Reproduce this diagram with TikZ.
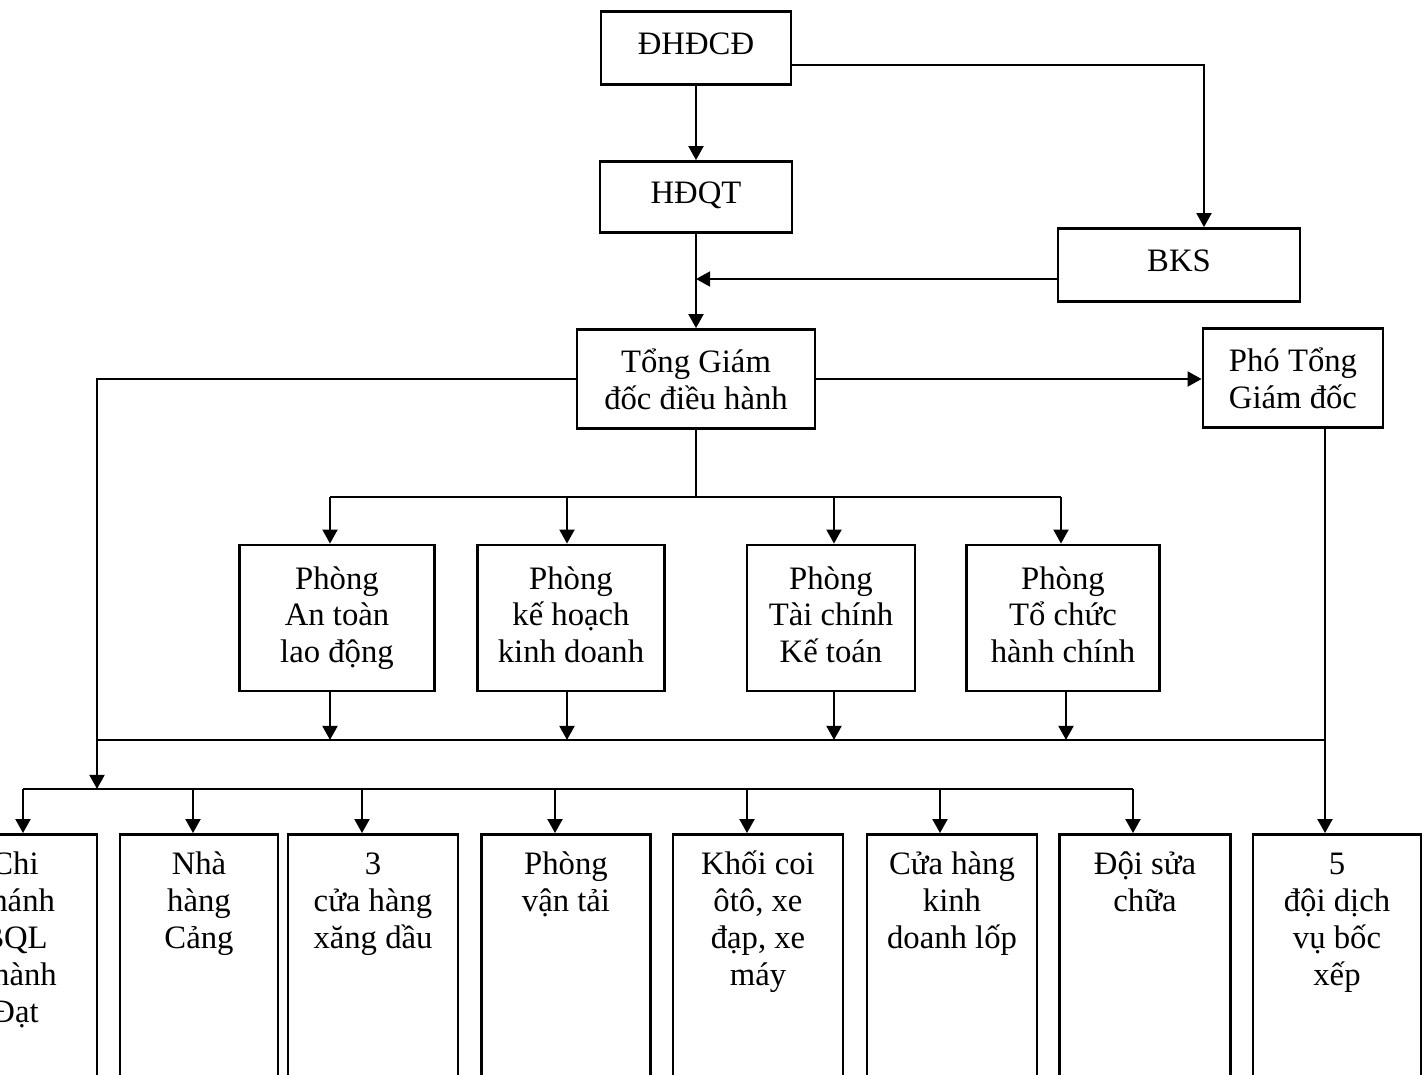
\documentclass[tikz,border=0pt]{standalone}
\usepackage{fontspec}
\setmainfont{Liberation Serif}
\usetikzlibrary{arrows.meta,calc}

\tikzset{
  box/.style={draw, line width=0.75pt, align=center, inner sep=0pt},
  onebox/.style={box, text height=7pt, text depth=3.5pt},
  arr/.style={line width=0.75pt, -{Triangle[length=4pt,width=4.2pt]}},
  ln/.style={line width=0.75pt}
}

\begin{document}
\begin{tikzpicture}[x=0.01cm, y=-0.01cm, font=\fontsize{9.3}{10.5}\selectfont]
        \useasboundingbox (0,0) rectangle (1423,1075);
        \clip (0,0) rectangle (1423,1075);
          \node[onebox, minimum width=1.90cm, minimum height=0.73cm] (dhcd) at (696,48) {ĐHĐCĐ};
          \node[onebox, minimum width=1.92cm, minimum height=0.71cm] (hdqt) at (696,197) {HĐQT};
          \node[onebox, minimum width=2.42cm, minimum height=0.73cm] (bks) at (1179,265) {BKS};
          \node[box, minimum width=2.38cm, minimum height=0.99cm] (tgd) at (696,379) {Tổng Giám\\đốc điều hành};
          \node[box, minimum width=1.80cm, minimum height=0.99cm] (ptgd) at (1293,378) {Phó Tổng\\Giám đốc};
          \draw[arr] (dhcd) -- (hdqt);
          \draw[arr] ([yshift=-0.17cm]dhcd.east) -| ([xshift=0.25cm]bks.north);
          \draw[arr] (hdqt) -- (tgd);
          \coordinate (bksin) at ([yshift=-0.14cm]bks.west);
          \draw[arr] (bksin) -- (bksin -| hdqt.south);
          \draw[arr] (tgd.east) -- (tgd.east -| ptgd.west);
          \coordinate (busL) at (97,789);
          \draw[arr] (tgd.west) -| (busL);
          \coordinate (bus1) at (696,497);
          \draw[ln] (tgd.south) -- (bus1);
          \foreach \n/\x/\w/\ax/\bx/\t in {pa/337/1.95/330/330/{Phòng\\An toàn\\lao động},
                pk/571/1.87/567/567/{Phòng\\kế hoạch\\kinh doanh},
                pt/831/1.68/834/834/{Phòng\\Tài chính\\Kế toán},
                pc/1063/1.93/1061/1066/{Phòng\\Tổ chức\\hành chính}}{
            \node[box, minimum width=\w cm, minimum height=1.46cm] (\n) at (\x,618) {};
            \node[anchor=north, align=center, inner sep=0pt] (\n-txt) at ([yshift=-0.13cm]\n.north) {\rule{0pt}{9pt}\t};
            \coordinate (\n-in) at (\ax,497);
            \coordinate (\n-out) at (\bx,740);
            \draw[arr] (\n-in) -- (\n-in |- \n.north);
            \draw[arr] (\n-out |- \n.south) -- (\n-out);}
          \draw[ln] (pa-in) -- (pc-in);
          \coordinate (bus2L) at (97,740);
          \coordinate (bus2R) at (1325,740);
          \draw[ln] (bus2L) -- (bus2R);
          \foreach \n/\x/\w/\ax/\t in {b1/15/1.64/23/{Chi\\nhánh\\BQL\\Thành\\Đạt},
                b2/199/1.58/193/{Nhà\\hàng\\Cảng},
                b3/373/1.70/362/{3\\cửa hàng\\xăng dầu},
                b4/566/1.69/555/{Phòng\\vận tải},
                b5/758/1.70/747/{Khối coi\\ôtô, xe\\đạp, xe\\máy},
                b6/952/1.70/940/{Cửa hàng\\kinh\\doanh lốp},
                b7/1145/1.71/1133/{Đội sửa\\chữa},
                b8/1337/1.68/1325/{5\\đội dịch\\vụ bốc\\xếp}}{
            \node[box, minimum width=\w cm, minimum height=2.65cm] (\n) at (\x,967) {};
            \node[anchor=north, align=center, inner sep=0pt] (\n-txt) at ([yshift=-0.09cm]\n.north) {\rule{0pt}{9pt}\t};
            \coordinate (\n-in) at (\ax,789);
            \draw[arr] (\n-in) -- (\n-in |- \n.north);}
          \draw[ln] (b1-in) -- (b7-in);
          \draw[ln] (ptgd.south -| b8-in) -- (b8-in);
        \end{tikzpicture}
\end{document}
